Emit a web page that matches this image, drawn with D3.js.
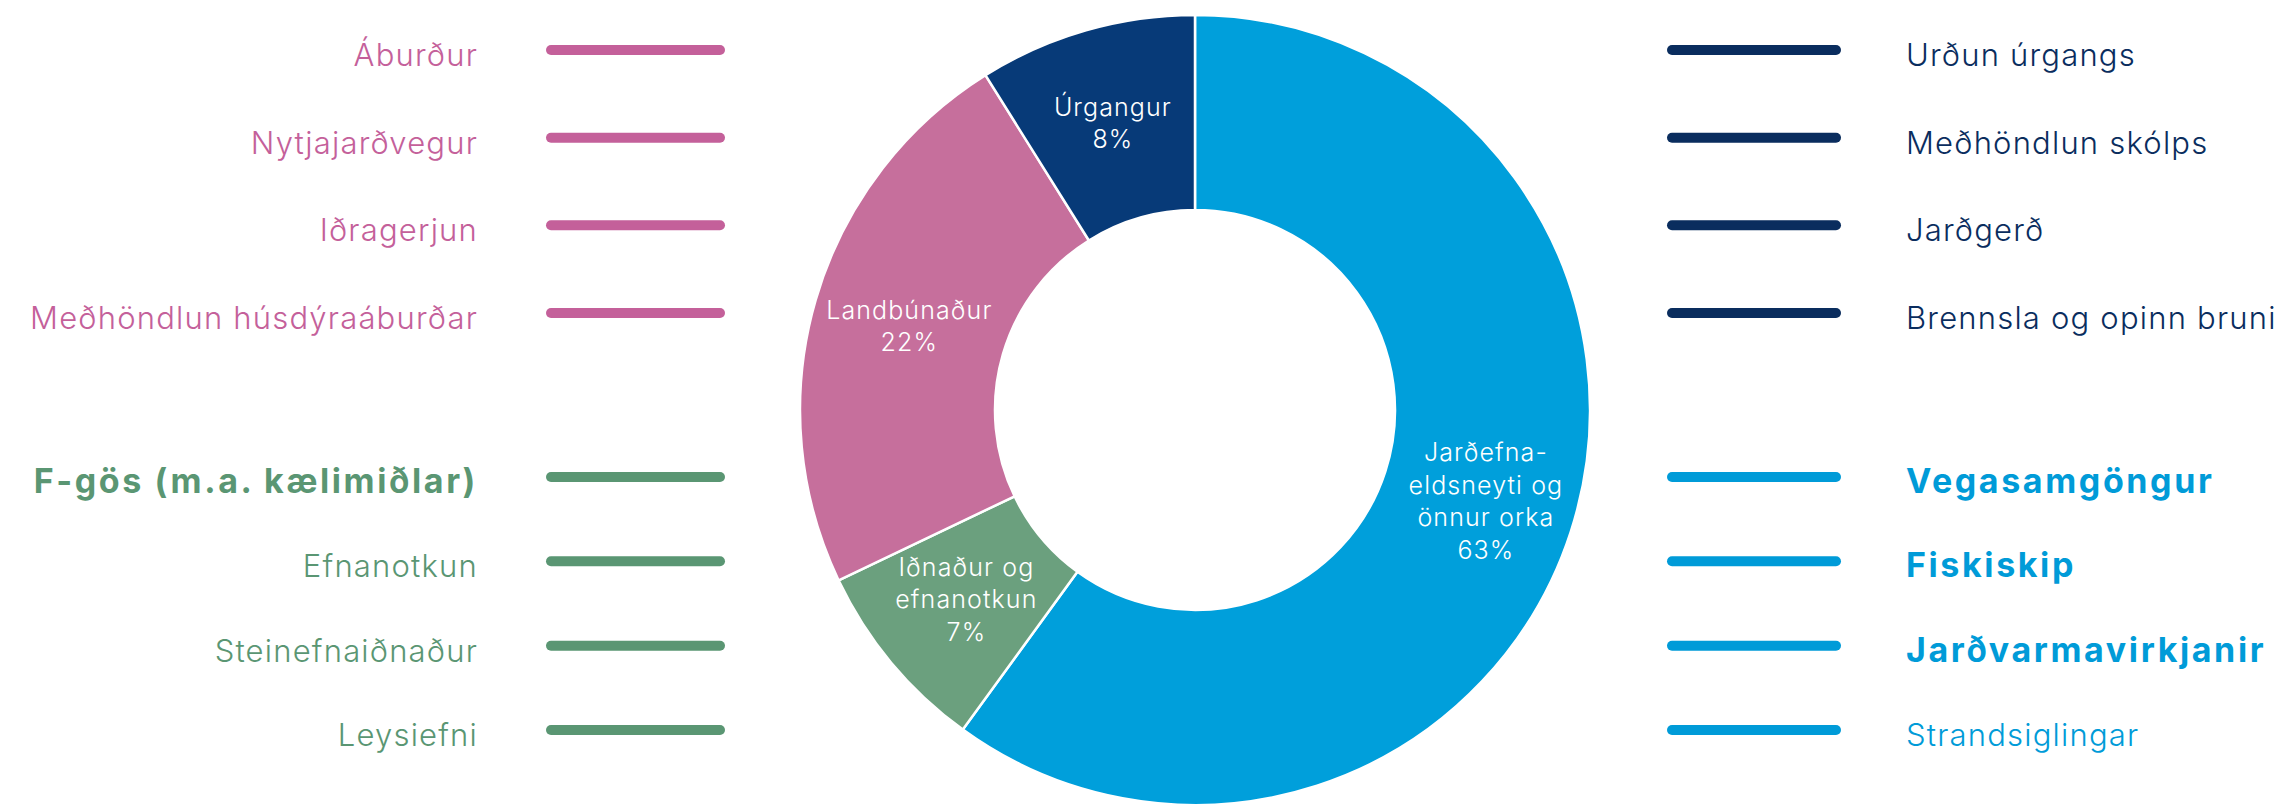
<!DOCTYPE html>
<html>
<head>
<meta charset="utf-8">
<script src="https://cdn.jsdelivr.net/npm/d3@7"></script>
<style>
  body { margin: 0; background: #fff; }
  svg { display: block; font-family: Inter, "Noto Sans", sans-serif; }
</style>
</head>
<body>
<div id="chart"></div>
<script>
// -------- Data --------
// slice order: clockwise from 12 o'clock
const sectorLines = [
  ["Jarðefna-", "eldsneyti og", "önnur orka"],
  ["Iðnaður og", "efnanotkun"],
  ["Landbúnaður"],
  ["Úrgangur"]
];
const sectorShares = [60.0, 7.9, 23.2, 8.9];      // as drawn
const sectorPctLabels = ["63%", "7%", "22%", "8%"]; // as printed
const sliceColors = ["#009fdb", "#6ba07e", "#c66f9c", "#073a78"];

const farmItems = ["Áburður", "Nytjajarðvegur", "Iðragerjun", "Meðhöndlun húsdýraáburðar"];
const farmBold = [false, false, false, false];
const industryItems = ["F-gös (m.a. kælimiðlar)", "Efnanotkun", "Steinefnaiðnaður", "Leysiefni"];
const industryBold = [true, false, false, false];
const wasteItems = ["Urðun úrgangs", "Meðhöndlun skólps", "Jarðgerð", "Brennsla og opinn bruni"];
const wasteBold = [false, false, false, false];
const energyItems = ["Vegasamgöngur", "Fiskiskip", "Jarðvarmavirkjanir", "Strandsiglingar"];
const energyBold = [true, true, true, false];

const legendColors = { farm: "#c4609a", industry: "#5a9673", waste: "#0a2d5e", energy: "#009bd8" };

// -------- Layout --------
const W = 2287, H = 804;
const cx = 1195, cy = 410;
const outerR = 395, innerR = 200;

const svg = d3.select("#chart").append("svg")
  .attr("width", W)
  .attr("height", H);

// -------- Donut --------
const pie = d3.pie().sort(null).value(d => d);
const arcs = pie(sectorShares);
const arc = d3.arc().innerRadius(innerR).outerRadius(outerR);

const g = svg.append("g").attr("transform", `translate(${cx},${cy})`);

g.selectAll("path")
  .data(arcs)
  .join("path")
  .attr("d", arc)
  .attr("fill", (d, i) => sliceColors[i])
  .attr("stroke", "#fff")
  .attr("stroke-width", 2.5);

const lh = 32.5;
g.selectAll("text.slice")
  .data(arcs)
  .join("text")
  .attr("class", "slice")
  .attr("fill", "#fff")
  .attr("font-size", 25)
  .attr("font-weight", 300)
  .attr("letter-spacing", 1.1)
  .attr("text-anchor", "middle")
  .each(function (d, i) {
    const [x, y] = arc.centroid(d);
    const lines = sectorLines[i].concat([sectorPctLabels[i]]);
    const y0 = y - (lines.length - 1) * lh / 2 + 8;
    d3.select(this).selectAll("tspan")
      .data(lines)
      .join("tspan")
      .attr("x", x + (i === 0 ? 8 : 0))
      .attr("y", (t, k) => y0 + k * lh)
      .text(t => t);
  });

// -------- Legends --------
const rowsTop = d3.scalePoint().domain([0, 1, 2, 3]).range([50, 313]);
const rowsBottom = d3.scalePoint().domain([0, 1, 2, 3]).range([477, 730]);

function legend(items, bold, color, rows, side) {
  const grp = svg.append("g");
  const lineX = side === "left" ? [551, 720] : [1672, 1836];
  grp.selectAll("line")
    .data(items)
    .join("line")
    .attr("x1", lineX[0])
    .attr("x2", lineX[1])
    .attr("y1", (d, i) => rows(i))
    .attr("y2", (d, i) => rows(i))
    .attr("stroke", color)
    .attr("stroke-width", 10)
    .attr("stroke-linecap", "round");

  grp.selectAll("text")
    .data(items)
    .join("text")
    .attr("x", side === "left" ? 478 : 1906)
    .attr("y", (d, i) => rows(i) + 16)
    .attr("text-anchor", side === "left" ? "end" : "start")
    .attr("fill", color)
    .attr("font-size", (d, i) => bold[i] ? 34 : 31)
    .attr("font-weight", (d, i) => bold[i] ? 700 : 300)
    .attr("letter-spacing", (d, i) => bold[i] ? 2.6 : 1.2)
    .text(d => d);
}

legend(farmItems, farmBold, legendColors.farm, rowsTop, "left");
legend(industryItems, industryBold, legendColors.industry, rowsBottom, "left");
legend(wasteItems, wasteBold, legendColors.waste, rowsTop, "right");
legend(energyItems, energyBold, legendColors.energy, rowsBottom, "right");
</script>
</body>
</html>
